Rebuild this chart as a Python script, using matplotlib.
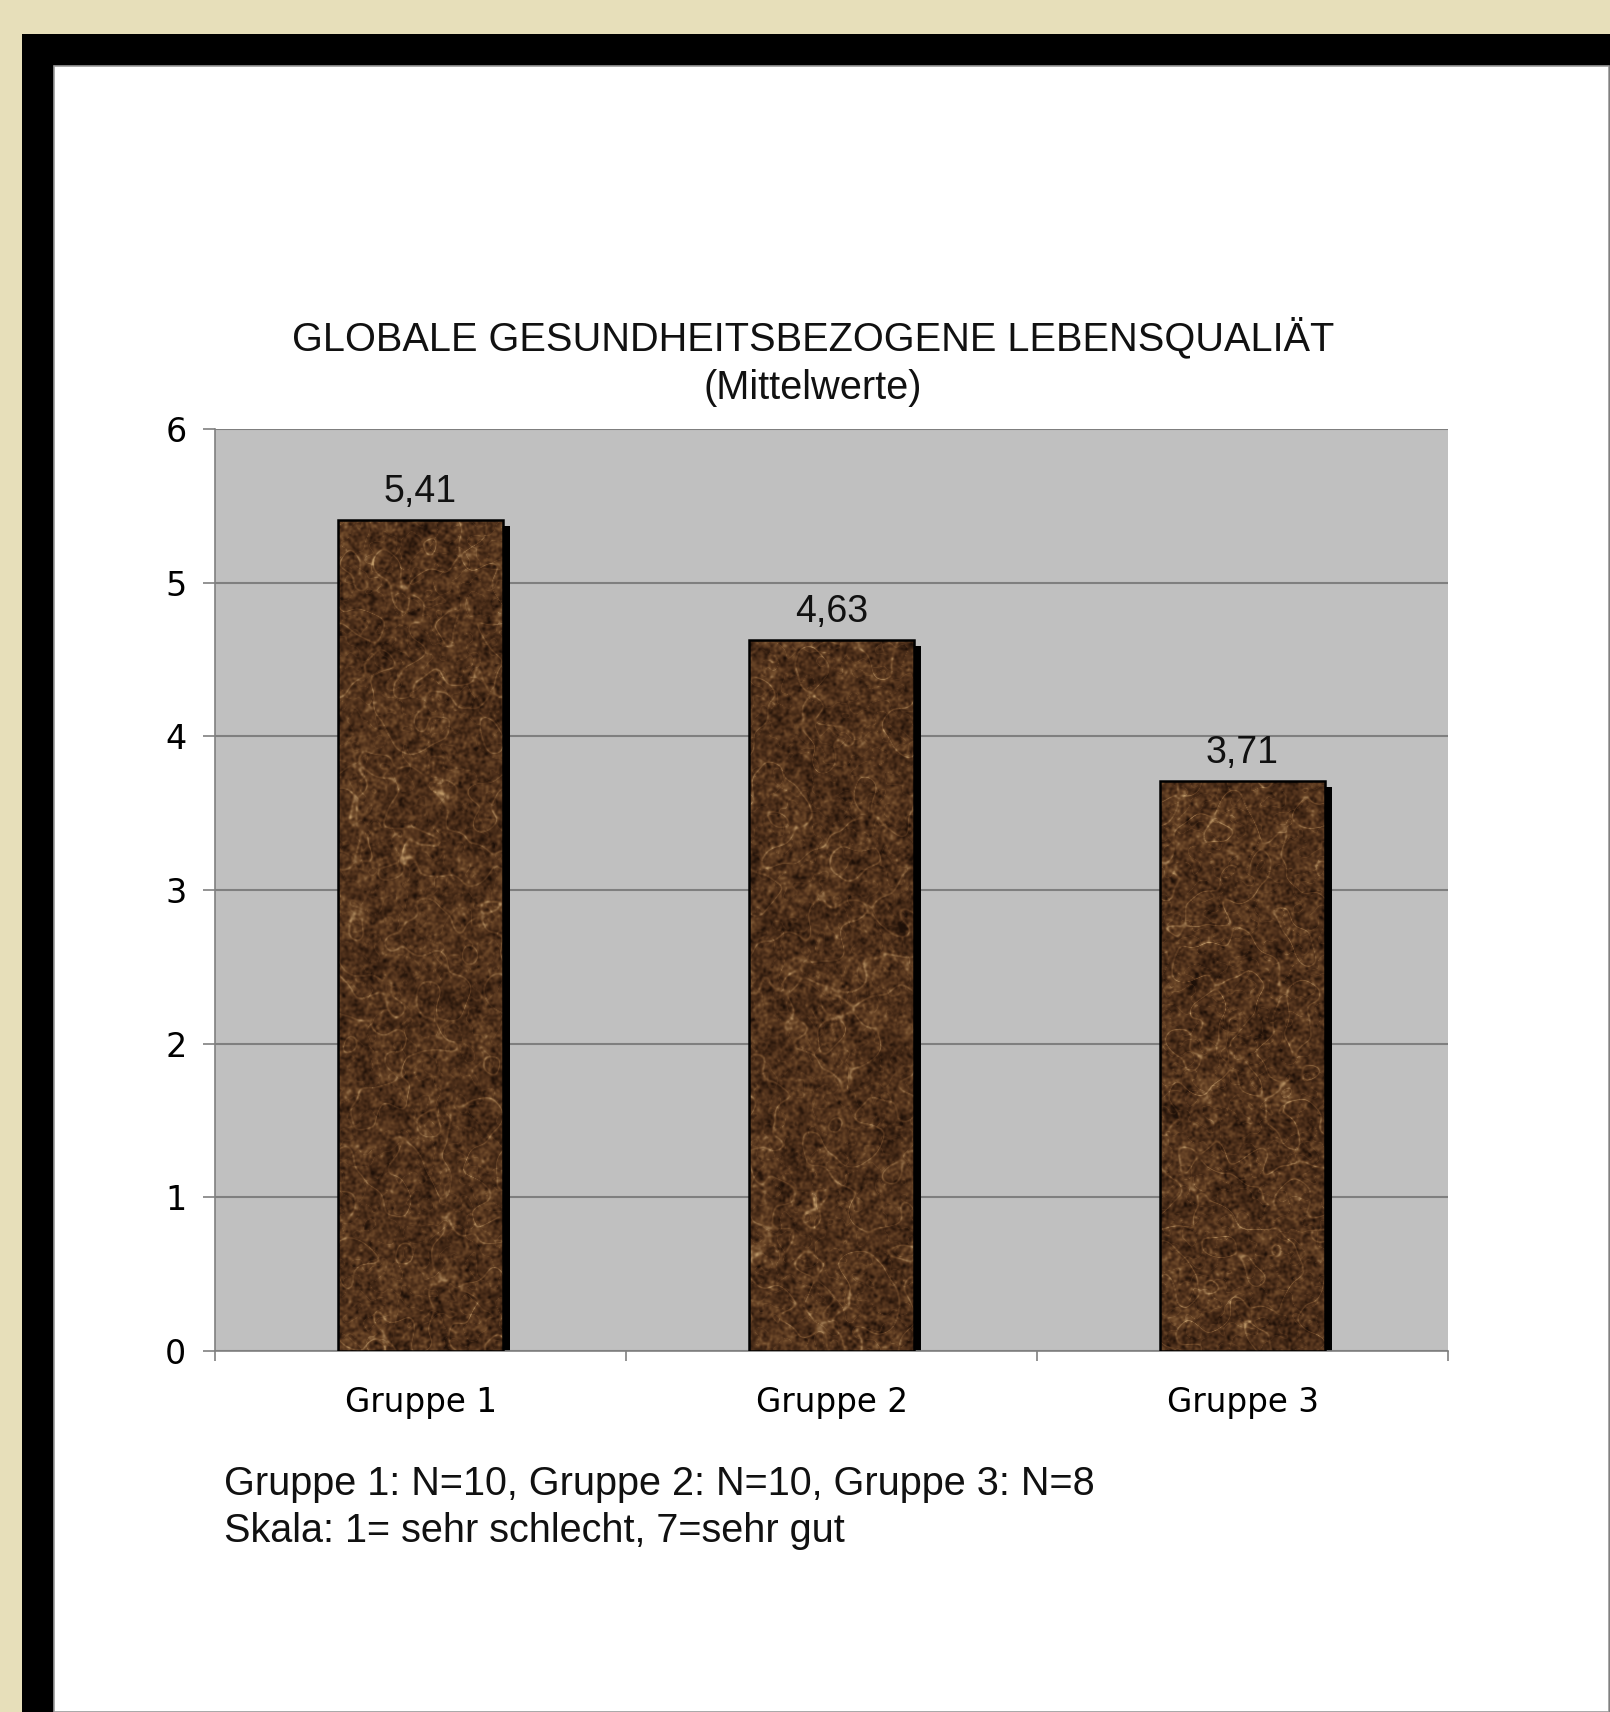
import numpy as np
import matplotlib
matplotlib.use("Agg")
import matplotlib.pyplot as plt
from matplotlib.patches import Rectangle
from matplotlib.transforms import ScaledTranslation
from matplotlib.colors import LinearSegmentedColormap

# ---- data ----
categories = ["Gruppe 1", "Gruppe 2", "Gruppe 3"]
values = [5.41, 4.63, 3.71]
value_labels = ["5,41", "4,63", "3,71"]
yticks = [0, 1, 2, 3, 4, 5, 6]
title_line1 = "GLOBALE GESUNDHEITSBEZOGENE LEBENSQUALIÄT"
title_line2 = "(Mittelwerte)"
footnote1 = "Gruppe 1: N=10, Gruppe 2: N=10, Gruppe 3: N=8"
footnote2 = "Skala: 1= sehr schlecht, 7=sehr gut"

W, H = 1610, 1712
fig = plt.figure(figsize=(W / 100, H / 100), dpi=100)

def fx(px):
    return px / W

def fy(py):
    return 1 - py / H

# ---- frame / background ----
fig.patches.append(Rectangle((0, 0), 1, 1, transform=fig.transFigure,
                             facecolor="#E7DFBA", edgecolor="none", zorder=-10))
fig.patches.append(Rectangle((fx(22), 0), 1 - fx(22), fy(34), transform=fig.transFigure,
                             facecolor="black", edgecolor="none", zorder=-9))
fig.patches.append(Rectangle((fx(54), 0), fx(1609) - fx(54), fy(66), transform=fig.transFigure,
                             facecolor="white", edgecolor="#9a9a9a", linewidth=1.2, zorder=-8))

# ---- axes ----
ax = fig.add_axes([fx(215), fy(1351), fx(1448) - fx(215), fy(429) - fy(1351)])
ax.set_zorder(1)
ax.set_facecolor("#C0C0C0")
x = np.arange(len(categories))
bw = 0.40

# texture (style only, not data)
def smooth(a, s):
    ny, nx = a.shape
    ky = np.fft.fftfreq(ny)[:, None]
    kx = np.fft.fftfreq(nx)[None, :]
    g = np.exp(-2 * (np.pi * s) ** 2 * (kx ** 2 + ky ** 2))
    return np.real(np.fft.ifft2(np.fft.fft2(a) * g))

def texture(ny, nx, seed):
    r = np.random.default_rng(seed)
    n1 = smooth(r.standard_normal((ny, nx)), 9)
    n1 /= n1.std()
    n2 = smooth(r.standard_normal((ny, nx)), 4)
    n2 /= n2.std()
    grain = smooth(r.standard_normal((ny, nx)), 1.2)
    grain /= grain.std()
    blotch = smooth(r.standard_normal((ny, nx)), 5)
    blotch /= blotch.std()
    vein = np.exp(-(n1 / 0.10) ** 2) * 0.28 + np.exp(-(n2 / 0.08) ** 2) * 0.14
    t = 0.36 + 0.10 * grain + 0.06 * blotch + vein
    return np.clip(t, 0, 1)

cmap = LinearSegmentedColormap.from_list(
    "brown", ["#1e1008", "#3a2212", "#54341d", "#6f4a2a", "#94704a", "#c09a68"])

shadow_tr = ax.transData + ScaledTranslation(7 / 100, -6 / 100, fig.dpi_scale_trans)
shadows = ax.bar(x, values, bw, color="black", zorder=2)
for p in shadows:
    p.set_transform(shadow_tr)

bars = ax.bar(x, values, bw, facecolor="none", edgecolor="black", linewidth=1.8, zorder=4)
for i, (b, v) in enumerate(zip(bars, values)):
    ny = int(v * 154)
    tex = texture(ny, 170, 11 + i)
    im = ax.imshow(tex, cmap=cmap, vmin=0, vmax=1, aspect="auto",
                   extent=(x[i] - bw / 2, x[i] + bw / 2, 0, v), zorder=3,
                   interpolation="bilinear")
    im.set_clip_path(b)
    ax.annotate(value_labels[i], (x[i], v), xytext=(0, 20), textcoords="offset points",
                ha="center", va="center", fontsize=27, family="Liberation Sans",
                color="#111111")

ax.set_xlim(-0.5, 2.5)
ax.set_ylim(0, 6)
ax.set_yticks(yticks)
ax.set_yticklabels([str(t) for t in yticks])
ax.yaxis.grid(True, color="#7f7f7f", linewidth=1.5)
ax.set_axisbelow(True)

ax.set_xticks([-0.5, 0.5, 1.5, 2.5])
ax.set_xticklabels([])
ax.set_xticks(x, minor=True)
ax.set_xticklabels(categories, minor=True)
ax.tick_params(axis="x", which="major", direction="out", length=7, color="#808080", width=1.2)
ax.tick_params(axis="x", which="minor", length=0, pad=25, labelsize=23.5, labelcolor="#000000")
ax.tick_params(axis="y", direction="out", length=8.6, color="#808080", width=1.2,
               pad=12, labelsize=24, labelcolor="#000000")
for s in ["top", "right"]:
    ax.spines[s].set_visible(False)
for s in ["left", "bottom"]:
    ax.spines[s].set_color("#808080")
    ax.spines[s].set_linewidth(1.2)

# ---- titles and notes ----
fig.text(fx(813), fy(338), title_line1, ha="center", va="center", fontsize=28.6,
         family="Liberation Sans", color="#111111")
fig.text(fx(813), fy(388), title_line2, ha="center", va="center", fontsize=28.6,
         family="Liberation Sans", color="#111111")
fig.text(fx(224), fy(1484), footnote1, ha="left", va="center", fontsize=28.5,
         family="Liberation Sans", color="#111111")
fig.text(fx(224), fy(1531), footnote2, ha="left", va="center", fontsize=28.5,
         family="Liberation Sans", color="#111111")

fig.savefig("out.png", dpi=100)
